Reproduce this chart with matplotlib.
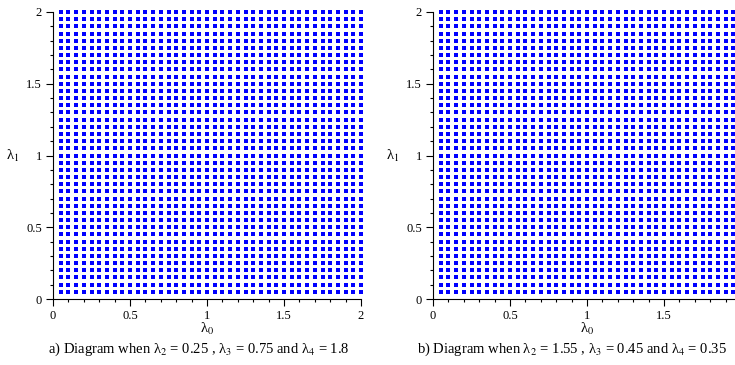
import matplotlib
matplotlib.use("Agg")
import numpy as np
import matplotlib.pyplot as plt
from matplotlib.ticker import MultipleLocator

plt.rcParams['font.family'] = ['Liberation Serif', 'DejaVu Serif']
plt.rcParams['mathtext.fontset'] = 'stix'

# grid points (lambda_0, lambda_1) where the point is marked
lam0_vals = [0.05, 0.10, 0.15, 0.20, 0.25, 0.30, 0.35, 0.40, 0.45, 0.50,
             0.55, 0.60, 0.65, 0.70, 0.75, 0.80, 0.85, 0.90, 0.95, 1.00,
             1.05, 1.10, 1.15, 1.20, 1.25, 1.30, 1.35, 1.40, 1.45, 1.50,
             1.55, 1.60, 1.65, 1.70, 1.75, 1.80, 1.85, 1.90, 1.95, 2.00]
lam1_vals = list(lam0_vals)

tick_vals = [0, 0.5, 1, 1.5, 2]
tick_labels = ['0', '0.5', '1', '1.5', '2']

captions = [
    'a) Diagram when λ$_2$ = 0.25 , λ$_3$ = 0.75 and λ$_4$ = 1.8',
    'b) Diagram when λ$_2$ = 1.55 , λ$_3$ = 0.45 and λ$_4$ = 0.35',
]

fig = plt.figure(figsize=(7.35, 3.65), dpi=100)
ax1 = fig.add_axes([53/735, 66/365, 308/735, 287/365])
ax2 = fig.add_axes([433/735, 66/365, 308/735, 287/365])

X, Y = np.meshgrid(lam0_vals, lam1_vals)

for ax in (ax1, ax2):
    ax.plot(X.ravel(), Y.ravel(), linestyle='none', marker='s', markersize=3.4,
            markeredgewidth=0, color='#0000ff', clip_on=False)
    ax.set_xlim(0, 2)
    ax.set_ylim(0, 2)
    ax.spines['top'].set_visible(False)
    ax.spines['right'].set_visible(False)
    ax.spines['left'].set_linewidth(0.8)
    ax.spines['bottom'].set_linewidth(0.8)
    ax.set_xticks(tick_vals)
    ax.set_yticks(tick_vals)
    ax.set_yticklabels(tick_labels)
    ax.xaxis.set_minor_locator(MultipleLocator(0.1))
    ax.yaxis.set_minor_locator(MultipleLocator(0.1))
    ax.tick_params(which='major', length=5, width=0.8, labelsize=9, pad=3)
    ax.tick_params(which='minor', length=2.5, width=0.8)
    ax.set_xlabel('λ$_0$', fontsize=10.5, labelpad=-1)
    ax.set_ylabel('λ$_1$', fontsize=10.5, rotation=0, labelpad=10, va='center')

ax1.set_xticklabels(tick_labels)
# right panel is cut at the image edge, so its "2" is not visible
ax2.set_xticklabels(tick_labels[:-1] + [''])

fig.text(199/735, 0.042, captions[0], ha='center', va='center', fontsize=10.5)
fig.text(572/735, 0.042, captions[1], ha='center', va='center', fontsize=10.5)

plt.savefig('out.png', dpi=100)
